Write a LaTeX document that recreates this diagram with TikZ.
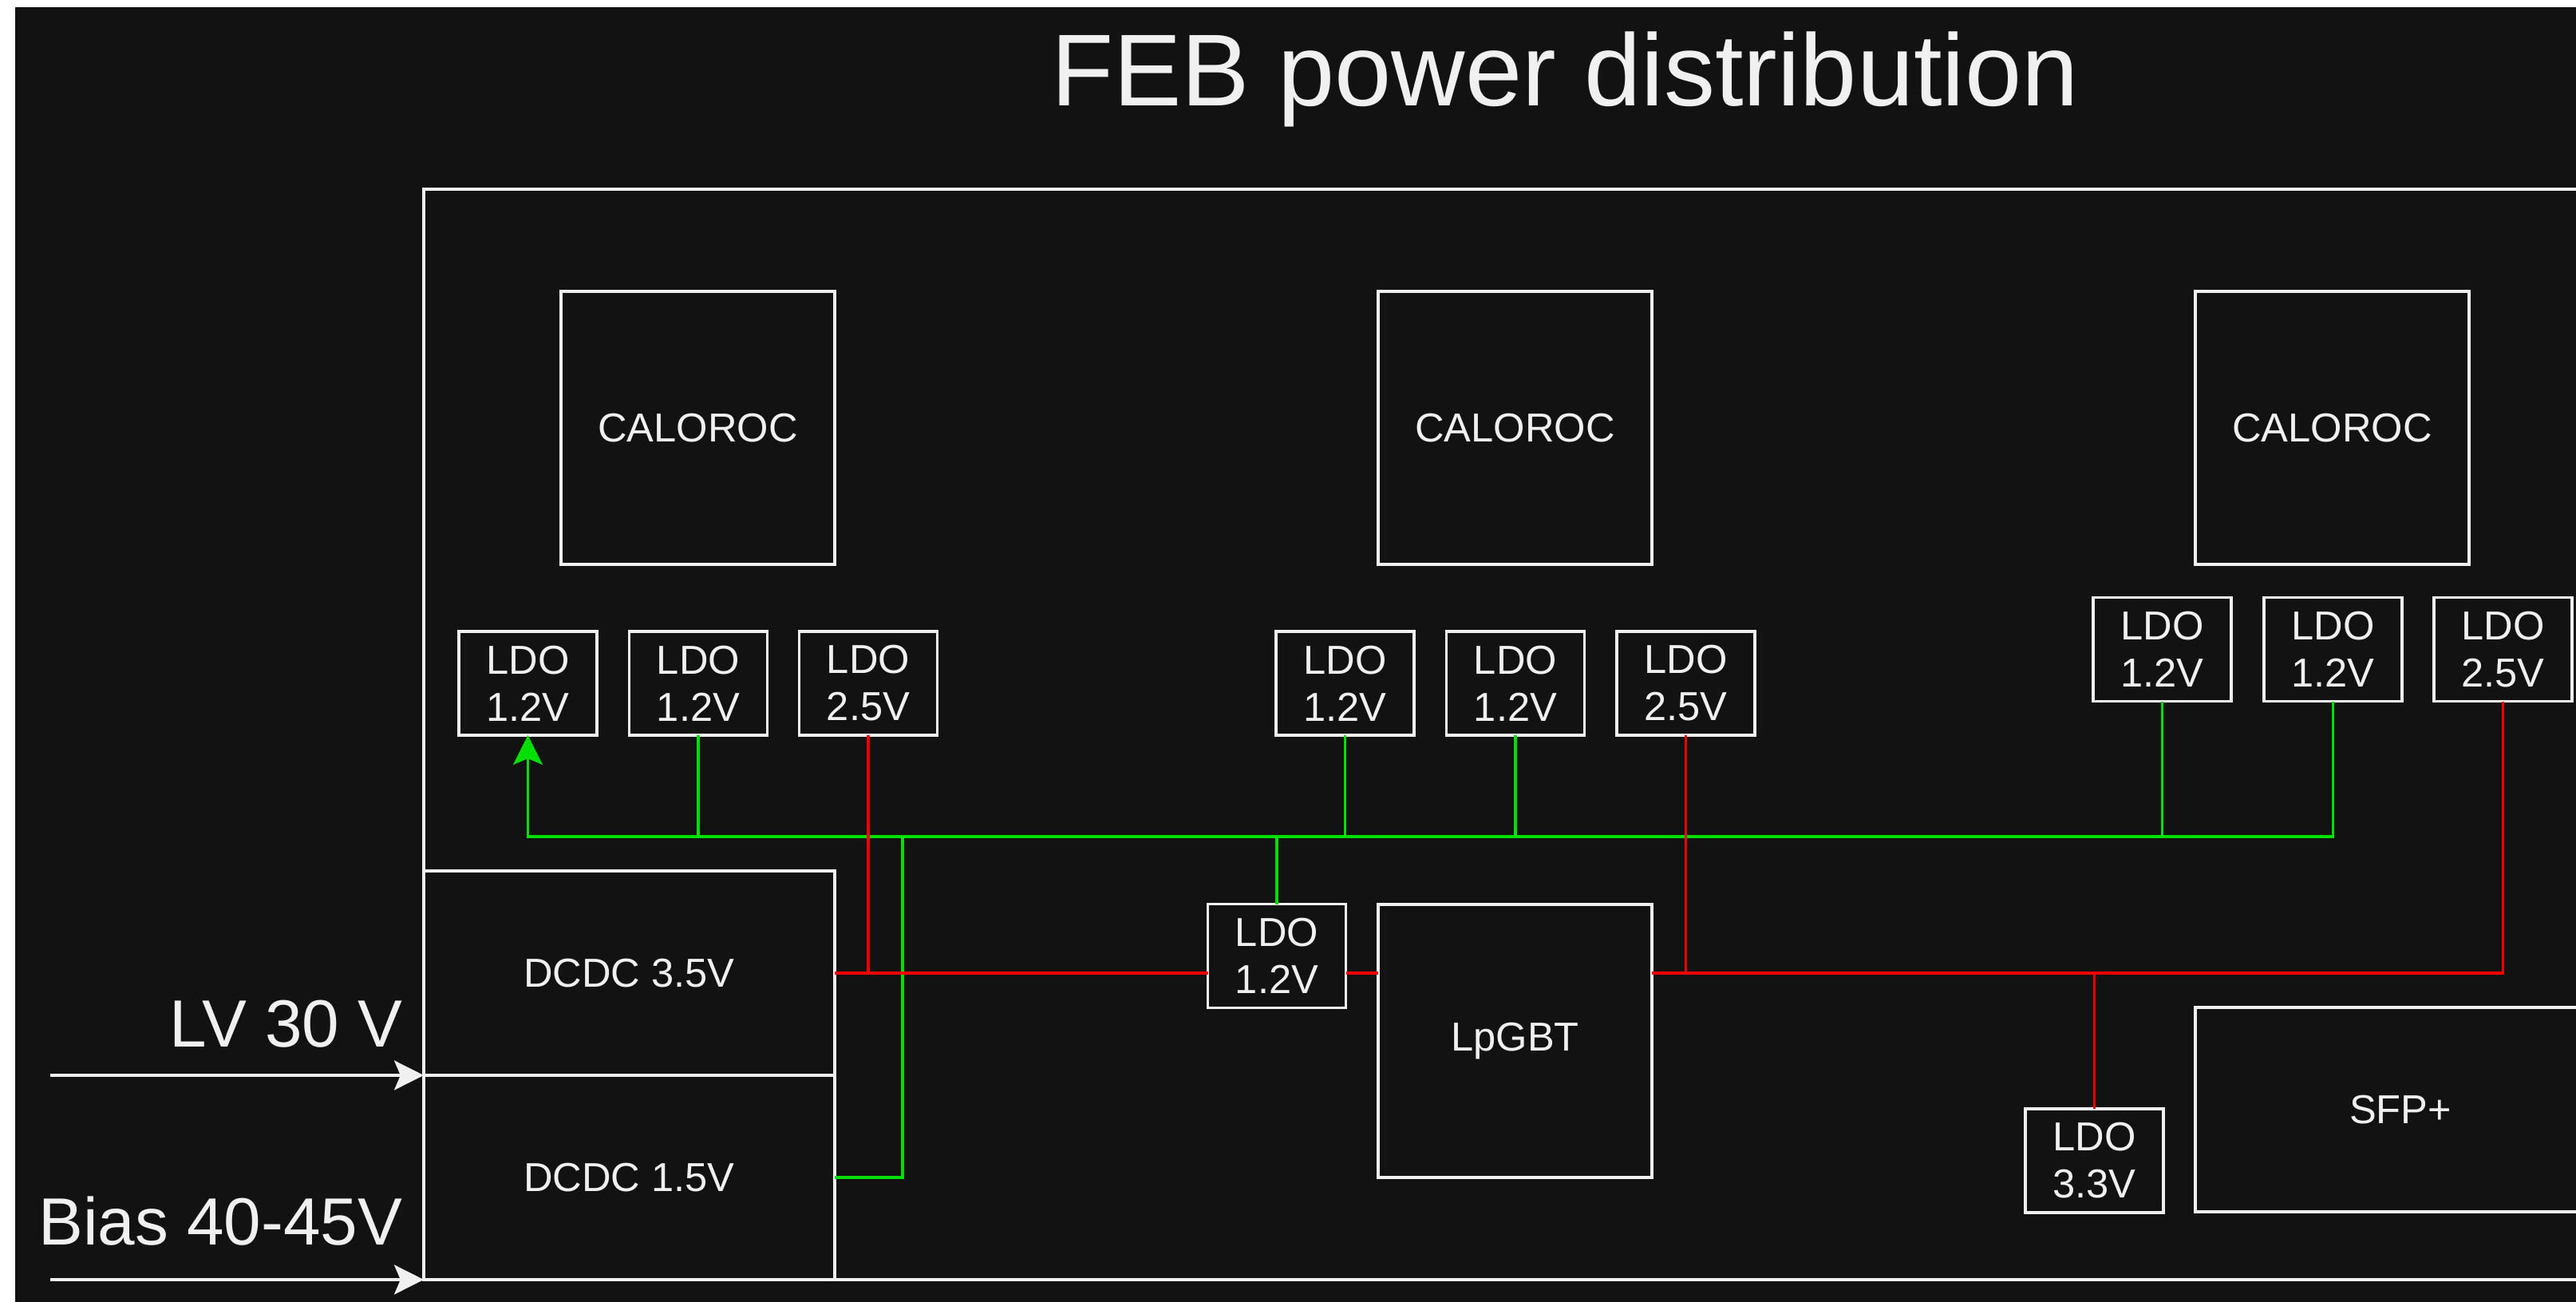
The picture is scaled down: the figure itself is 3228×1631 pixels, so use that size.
\documentclass[tikz,border=0pt]{standalone}
\usepackage{fontspec}
\setmainfont{Liberation Sans}
\usetikzlibrary{arrows.meta,calc}
\definecolor{bg}{HTML}{121212}
\definecolor{fg}{HTML}{F0F0F0}
\definecolor{gline}{HTML}{00E000}
\definecolor{rline}{HTML}{F20000}
\begin{document}
\begin{tikzpicture}[x=0.01cm,y=-0.01cm,
  blk/.style={draw=fg, line width=1.1pt, inner sep=0pt, outer sep=0pt, text=fg,
    font=\fontsize{14.4pt}{16.8pt}\selectfont, align=center},
  sz/.style 2 args={minimum width=#1*0.01cm, minimum height=#2*0.01cm},
  ldo/.style={blk, sz={173}{130}},
  chip/.style={blk, sz={343}{342}},
  gwire/.style={draw=gline, line width=0.95pt},
  rwire/.style={draw=rline, line width=0.95pt},
  wwire/.style={draw=fg, line width=1.1pt},
  tip/.style={-{Stealth[length=10.5pt, width=10.5pt, inset=2.2pt]}},
  lbl/.style={text=fg, inner sep=0pt, font=\fontsize{23.8pt}{28pt}\selectfont}]
\useasboundingbox (0,0) rectangle (3228,1631);
\fill[white] (0,0) rectangle (3228,1631);
\fill[bg] (19,9) rectangle (3228,1631);
\begin{scope}
\clip (19,9) rectangle (3228,1631);
% title
\node[text=fg, inner sep=0pt, anchor=base, font=\fontsize{36.4pt}{40pt}\selectfont] (title) at (1961,133) {FEB power distribution};
% board outline
\node[blk, sz={2769}{1366}] (feb) at (1915.5,920) {};
% CALOROCs
\node[chip] (cal1) at (874.5,536) {CALOROC};
\node[chip] (cal2) at (1898.5,536) {CALOROC};
\node[chip] (cal3) at (2922.5,536) {CALOROC};
% LDO rows
\node[ldo] (ldoL1) at (661.5,856) {LDO\\1.2V};
\node[ldo] (ldoL2) at (875,856) {LDO\\1.2V};
\node[ldo] (ldoL3) at (1088,856) {LDO\\2.5V};
\node[ldo] (ldoM1) at (1685.5,856) {LDO\\1.2V};
\node[ldo] (ldoM2) at (1899,856) {LDO\\1.2V};
\node[ldo] (ldoM3) at (2112.5,856) {LDO\\2.5V};
\node[ldo] (ldoR1) at (2709.5,813.5) {LDO\\1.2V};
\node[ldo] (ldoR2) at (2923.5,813.5) {LDO\\1.2V};
\node[ldo] (ldoR3) at (3136.5,813.5) {LDO\\2.5V};
% lower blocks
\node[ldo] (ldoG) at (1600,1197.5) {LDO\\1.2V};
\node[chip] (lpgbt) at (1898.5,1304) {LpGBT};
\node[ldo] (ldo33) at (2624.5,1454) {LDO\\3.3V};
\node[blk, sz={514}{256}] (sfp) at (3008,1390) {SFP+};
\node[blk, sz={515}{256}] (dc35) at (788.5,1219) {DCDC 3.5V};
\node[blk, sz={515}{256}] (dc15) at (788.5,1475) {DCDC 1.5V};
% reference coordinates for the buses
\coordinate (gbus) at (0,1048);
\coordinate (rbus) at (0,1219);
\coordinate (gjoin) at (1131,1048);
% green 1.2V network
\draw[gwire, tip] (ldoR2.south) -- (ldoR2.south |- gbus) -- (ldoL1.south |- gbus) -- (ldoL1.south);
\draw[gwire] (ldoL2.south) -- (ldoL2.south |- gbus);
\draw[gwire] (ldoM1.south) -- (ldoM1.south |- gbus);
\draw[gwire] (ldoM2.south) -- (ldoM2.south |- gbus);
\draw[gwire] (ldoR1.south) -- (ldoR1.south |- gbus);
\draw[gwire] (ldoG.north) -- (ldoG.north |- gbus);
\draw[gwire] (dc15.east) -| (gjoin);
% red 3.5V network
\draw[rwire] (dc35.east) -- (dc35.east -| ldoG.west);
\draw[rwire] (ldoG.east |- rbus) -- (lpgbt.west |- rbus);
\draw[rwire] (ldoL3.south) -- (ldoL3.south |- rbus);
\draw[rwire] (lpgbt.east |- rbus) -| (ldoR3.south);
\draw[rwire] (ldoM3.south) -- (ldoM3.south |- rbus);
\draw[rwire] (ldo33.north) -- (ldo33.north |- rbus);
% inputs
\coordinate (lvstart) at (63,1347);
\coordinate (biasstart) at (63,1603);
\draw[wwire, tip] (lvstart) -- (dc35.south west);
\draw[wwire, tip] (biasstart) -- (dc15.south west);
\node[lbl, anchor=base east] (lv) at (505,1311) {LV 30 V};
\node[lbl, anchor=base east] (bias) at (505,1559) {Bias 40-45V};
\end{scope}
\end{tikzpicture}
\end{document}
